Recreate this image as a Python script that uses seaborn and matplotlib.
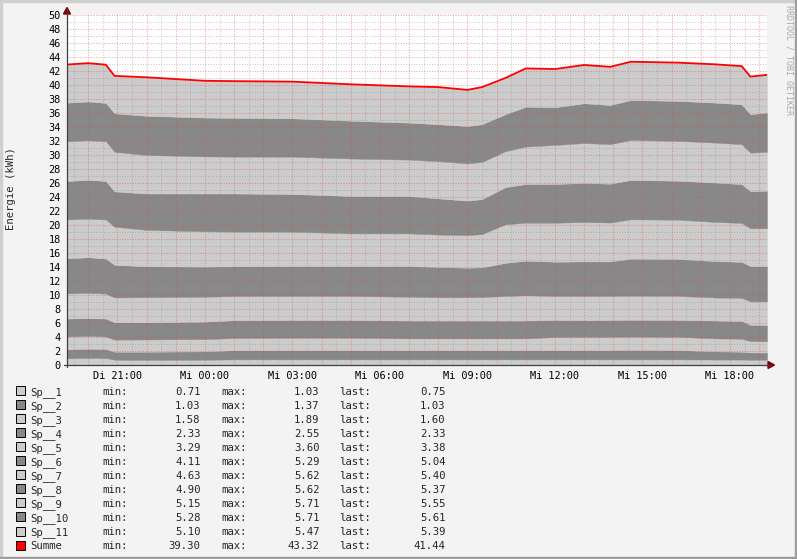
import matplotlib
matplotlib.use("Agg")
import matplotlib.pyplot as plt
import matplotlib.ticker as mticker
from matplotlib.lines import Line2D
from matplotlib.patches import Rectangle, Polygon
import seaborn as sns

W, H = 797, 559
BG    = "#F3F3F3"
LIGHT = "#CCCCCC"
DARK  = "#888888"
RED   = "#FF0000"
ARROW = "#800000"
GRID  = "#8F8F8F"
MGRID = "#DE5050"

# hours counted from Di 00:00
hours = [19.27, 20.0, 20.6, 20.9, 22.0, 24.0, 25.0, 27.0, 29.0, 31.0, 32.0, 33.0,
         33.5, 34.3, 35.0, 36.0, 37.0, 37.9, 38.6, 40.2, 41.5, 42.4, 42.7, 43.27]

sp1  = [0.95, 1.03, 1.00, 0.75, 0.72, 0.75, 0.80, 0.80, 0.80, 0.80, 0.80, 0.80,
        0.80, 0.80, 0.80, 0.80, 0.80, 0.80, 0.80, 0.80, 0.78, 0.78, 0.75, 0.75]
sp2  = [1.29, 1.30, 1.28, 1.15, 1.18, 1.20, 1.32, 1.34, 1.34, 1.34, 1.34, 1.34,
        1.34, 1.34, 1.34, 1.34, 1.34, 1.34, 1.36, 1.34, 1.17, 1.12, 1.05, 1.03]
sp3  = [1.84, 1.82, 1.80, 1.72, 1.75, 1.75, 1.73, 1.76, 1.76, 1.66, 1.66, 1.66,
        1.66, 1.66, 1.66, 1.86, 1.89, 1.89, 1.89, 1.89, 1.85, 1.85, 1.62, 1.60]
sp4  = [2.55, 2.55, 2.55, 2.48, 2.45, 2.50, 2.55, 2.53, 2.53, 2.55, 2.55, 2.55,
        2.55, 2.55, 2.55, 2.43, 2.39, 2.40, 2.41, 2.41, 2.55, 2.55, 2.33, 2.33]
sp5  = [3.60, 3.60, 3.58, 3.55, 3.58, 3.55, 3.45, 3.43, 3.43, 3.40, 3.32, 3.32,
        3.35, 3.51, 3.60, 3.43, 3.44, 3.43, 3.44, 3.43, 3.29, 3.29, 3.33, 3.38]
sp6  = [5.00, 5.10, 5.00, 4.65, 4.42, 4.30, 4.25, 4.28, 4.28, 4.39, 4.33, 4.23,
        4.25, 4.74, 4.95, 4.90, 4.94, 4.94, 5.29, 5.29, 5.20, 5.15, 5.05, 5.04]
sp7  = [5.57, 5.50, 5.58, 5.45, 5.20, 5.05, 4.95, 4.91, 4.66, 4.66, 4.63, 4.65,
        4.75, 5.50, 5.43, 5.57, 5.62, 5.55, 5.62, 5.60, 5.60, 5.55, 5.40, 5.40]
sp8  = [5.48, 5.55, 5.50, 5.05, 5.20, 5.40, 5.45, 5.38, 5.34, 5.34, 5.17, 4.93,
        5.00, 5.30, 5.53, 5.53, 5.58, 5.55, 5.62, 5.57, 5.62, 5.55, 5.30, 5.37]
sp9  = [5.71, 5.65, 5.70, 5.65, 5.50, 5.30, 5.26, 5.33, 5.36, 5.20, 5.32, 5.32,
        5.30, 5.15, 5.34, 5.57, 5.71, 5.65, 5.71, 5.70, 5.71, 5.70, 5.50, 5.55]
sp10 = [5.48, 5.55, 5.45, 5.50, 5.60, 5.55, 5.54, 5.48, 5.40, 5.28, 5.28, 5.35,
        5.40, 5.28, 5.70, 5.38, 5.68, 5.60, 5.71, 5.70, 5.71, 5.70, 5.50, 5.61]
sp11 = [5.45, 5.47, 5.46, 5.35, 5.50, 5.25, 5.25, 5.24, 5.20, 5.18, 5.30, 5.15,
        5.30, 5.17, 5.47, 5.47, 5.47, 5.45, 5.47, 5.47, 5.47, 5.46, 5.37, 5.39]

names    = ["Sp__1", "Sp__2", "Sp__3", "Sp__4", "Sp__5", "Sp__6", "Sp__7",
            "Sp__8", "Sp__9", "Sp__10", "Sp__11", "Summe"]
leg_min  = ["0.71", "1.03", "1.58", "2.33", "3.29", "4.11", "4.63", "4.90",
            "5.15", "5.28", "5.10", "39.30"]
leg_max  = ["1.03", "1.37", "1.89", "2.55", "3.60", "5.29", "5.62", "5.62",
            "5.71", "5.71", "5.47", "43.32"]
leg_last = ["0.75", "1.03", "1.60", "2.33", "3.38", "5.04", "5.40", "5.37",
            "5.55", "5.61", "5.39", "41.44"]

tick_hours  = [21, 24, 27, 30, 33, 36, 39, 42]
tick_labels = ["Di 21:00", "Mi 00:00", "Mi 03:00", "Mi 06:00",
               "Mi 09:00", "Mi 12:00", "Mi 15:00", "Mi 18:00"]

sns.set_style("white")
plt.rcParams["font.family"] = ["DejaVu Sans Mono"]

series = [sp1, sp2, sp3, sp4, sp5, sp6, sp7, sp8, sp9, sp10, sp11]
summe = [sum(v) for v in zip(*series)]
colors = [LIGHT if i % 2 == 0 else DARK for i in range(len(series))]


def fx(x):
    return x / W


def fy(y):
    return 1 - y / H


fig = plt.figure(figsize=(W / 100, H / 100), dpi=100, facecolor=BG)
ax = fig.add_axes([fx(67), fy(365), 700 / W, 350 / H])
ax.set_facecolor("white")

ax.stackplot(hours, *series, colors=colors, linewidth=0.3, edgecolor="face", zorder=1)
sns.lineplot(x=hours, y=summe, color=RED, linewidth=1.3, ax=ax, zorder=4)

ax.set_xlim(hours[0], hours[-1])
ax.set_ylim(0, 50)

# hourly major grid (red), half-hour minor grid (grey)
ax.set_xticks(range(20, 44))
lab = dict(zip(tick_hours, tick_labels))
ax.set_xticklabels([lab.get(h, "") for h in range(20, 44)])
ax.xaxis.set_minor_locator(mticker.MultipleLocator(0.5))
ax.set_yticks(range(0, 51, 2))
ax.yaxis.set_minor_locator(mticker.MultipleLocator(1))

ax.set_axisbelow(False)
ax.grid(which="major", color=MGRID, alpha=0.5, linewidth=0.75, linestyle=(0, (1, 1.5)))
ax.grid(which="minor", color=GRID, alpha=0.45, linewidth=0.75, linestyle=(0, (1, 1.5)))
ax.tick_params(which="major", direction="out", length=2, width=0.7, color="#E0A0A0",
               labelsize=7.4, labelcolor="black", pad=2.5)
ax.tick_params(which="minor", direction="out", length=2, width=0.7, color="#C0C0C0")
for s in ax.spines.values():
    s.set_visible(False)

# axis lines and arrows
fig.add_artist(Line2D([fx(67), fx(67)], [fy(367), fy(9)], color="#404040", lw=0.9))
fig.add_artist(Line2D([fx(64), fx(771)], [fy(365), fy(365)], color="#404040", lw=0.9))
fig.add_artist(Polygon([(fx(63.5), fy(14)), (fx(70.5), fy(14)), (fx(67), fy(7.5))],
                       closed=True, color=ARROW, transform=fig.transFigure))
fig.add_artist(Polygon([(fx(768), fy(361.5)), (fx(768), fy(368.5)), (fx(774.5), fy(365))],
                       closed=True, color=ARROW, transform=fig.transFigure))

fig.text(fx(11), fy(189), "Energie (kWh)", rotation=90, ha="center", va="center",
         fontsize=7.7)
fig.text(fx(789), fy(5), "RRDTOOL / TOBI OETIKER", rotation=270, ha="center", va="top",
         fontsize=6, color="#A8A8A8")

# legend block
box_colors = colors + [RED]
for i, name in enumerate(names):
    yc = 390.7 + i * 14.03
    base = fy(yc + 3.9)
    fig.add_artist(Rectangle((fx(15.5), fy(yc + 4.5)), 9 / W, 9 / H,
                             facecolor=box_colors[i], edgecolor="black", lw=0.7,
                             transform=fig.transFigure))
    fig.text(fx(30.5), base, name, fontsize=7.7, va="baseline")
    fig.text(fx(102.5), base, "min:", fontsize=7.7, va="baseline")
    fig.text(fx(200.5), base, leg_min[i], fontsize=7.7, va="baseline", ha="right")
    fig.text(fx(221.5), base, "max:", fontsize=7.7, va="baseline")
    fig.text(fx(319.5), base, leg_max[i], fontsize=7.7, va="baseline", ha="right")
    fig.text(fx(339.5), base, "last:", fontsize=7.7, va="baseline")
    fig.text(fx(445.5), base, leg_last[i], fontsize=7.7, va="baseline", ha="right")

# 3d-ish frame around the image
fig.add_artist(Rectangle((0, fy(2)), 1, 2 / H, color="#CFCFCF", transform=fig.transFigure))
fig.add_artist(Rectangle((0, 0), 2 / W, 1, color="#CFCFCF", transform=fig.transFigure))
fig.add_artist(Rectangle((fx(795), 0), 2 / W, 1, color="#9E9E9E", transform=fig.transFigure))
fig.add_artist(Rectangle((0, 0), 1, 2 / H, color="#9E9E9E", transform=fig.transFigure))

fig.savefig("out.png", dpi=100, facecolor=BG)
